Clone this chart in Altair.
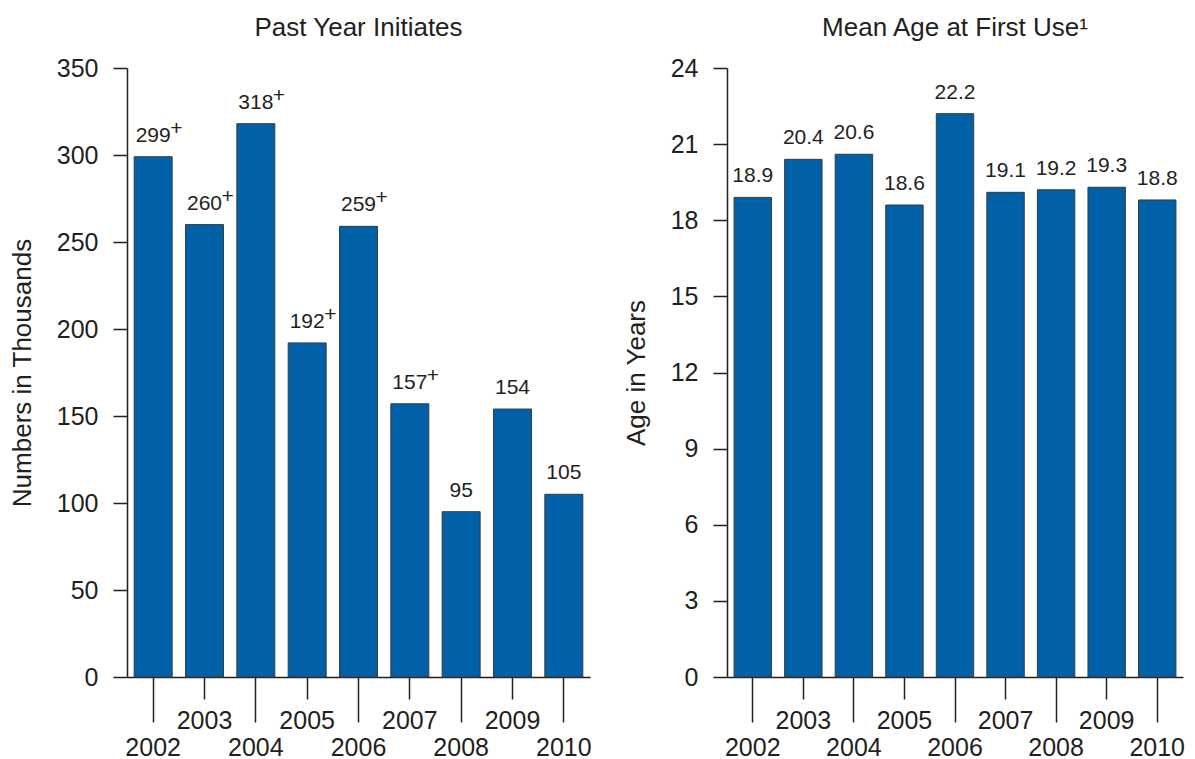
import altair as alt
import pandas as pd

years = ["2002", "2003", "2004", "2005", "2006", "2007", "2008", "2009", "2010"]
initiates = [299, 260, 318, 192, 259, 157, 95, 154, 105]
initiates_mark = ["+", "+", "+", "+", "+", "+", "", "", ""]
mean_age = [18.9, 20.4, 20.6, 18.6, 22.2, 19.1, 19.2, 19.3, 18.8]
left_ticks = [0, 50, 100, 150, 200, 250, 300, 350]
right_ticks = [0, 3, 6, 9, 12, 15, 18, 21, 24]

FONT = "Liberation Sans"
INK = "#231f20"
BAR = "#0060a8"

df1 = pd.DataFrame({
    "year": years,
    "value": initiates,
    "label": [str(v) for v in initiates],
    "mark": initiates_mark,
})
df2 = pd.DataFrame({
    "year": years,
    "value": mean_age,
    "label": [f"{v:.1f}" for v in mean_age],
})

even_test = "toNumber(datum.value) % 2 == 0"


def x_enc():
    return alt.X(
        "year:N",
        sort=years,
        scale=alt.Scale(paddingInner=0.26, paddingOuter=0.14),
        axis=alt.Axis(
            title=None,
            labelAngle=0,
            labelFont=FONT,
            labelFontSize=25,
            labelColor=INK,
            labelOverlap=False,
            labelFlush=False,
            tickSize={"condition": {"test": even_test, "value": 45}, "value": 22},
            labelPadding={"condition": {"test": even_test, "value": 13}, "value": 9},
            tickColor=INK,
            tickWidth=1.5,
            domainColor=INK,
            domainWidth=1.5,
        ),
    )


def y_enc(title, domain, ticks):
    return alt.Y(
        "value:Q",
        scale=alt.Scale(domain=domain, nice=False, zero=True),
        axis=alt.Axis(
            title=title,
            values=ticks,
            grid=False,
            labelFont=FONT,
            labelFontSize=25,
            labelColor=INK,
            labelPadding=15,
            tickSize=14,
            tickColor=INK,
            tickWidth=1.5,
            domainColor=INK,
            domainWidth=1.5,
            titleFont=FONT,
            titleFontSize=26,
            titleFontWeight="normal",
            titleColor=INK,
            titlePadding=21,
        ),
    )


def panel(df, title, ytitle, domain, ticks, with_mark, width):
    x = x_enc()
    y = y_enc(ytitle, domain, ticks)
    base = alt.Chart(df)
    bars = base.mark_bar(color=BAR, stroke="#3a3a3a", strokeWidth=1).encode(x=x, y=y)
    labels = base.mark_text(
        dy=-15, baseline="alphabetic", fontSize=21, font=FONT, color=INK
    ).encode(x=x, y=y, text="label:N")
    layers = [bars, labels]
    if with_mark:
        plus = base.mark_text(
            dx=17, dy=-22, align="left", baseline="alphabetic", fontSize=21, font=FONT, color=INK
        ).encode(x=x, y=y, text="mark:N")
        layers.append(plus)
    return alt.layer(*layers).properties(
        width=width,
        height=609,
        title=alt.TitleParams(
            title, font=FONT, fontSize=26, fontWeight="normal", color=INK, offset=15
        ),
    )


left = panel(df1, "Past Year Initiates", "Numbers in Thousands", [0, 350], left_ticks, True, 463)
right = panel(df2, "Mean Age at First Use\u00b9", "Age in Years", [0, 24], right_ticks, False, 456)

chart = (
    alt.hconcat(left, right, spacing=31)
    .properties(padding={"left": 1, "top": 7, "right": 0, "bottom": 0})
    .configure_view(stroke=None)
)

chart.save("out.html", embed_options={"renderer": "svg", "actions": False})
